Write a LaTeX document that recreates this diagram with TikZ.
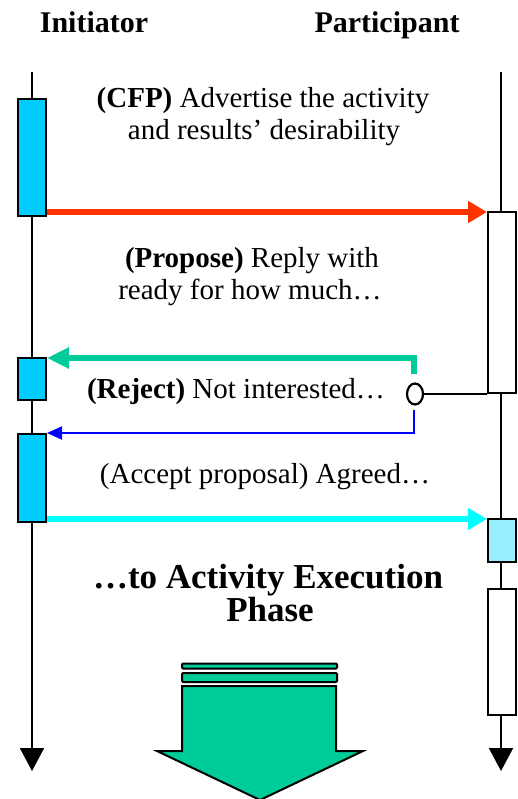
\documentclass[tikz,border=0pt]{standalone}
\usepackage{fontspec}
\setmainfont{Liberation Serif}
\usetikzlibrary{arrows.meta,shapes.geometric}
\definecolor{actblue}{HTML}{00CCFF}
\definecolor{lightact}{HTML}{99EEFF}
\definecolor{cfpred}{HTML}{FF3300}
\definecolor{rejgreen}{HTML}{00CC99}
\definecolor{accblue}{HTML}{0000FF}
\definecolor{acccyan}{HTML}{00FFFF}
\tikzset{
  lifeline/.style={line width=2pt,-{Triangle[length=23pt,width=24pt]}},
  actbox/.style={draw=black,line width=2pt,fill=actblue,minimum width=28pt,inner sep=0pt,anchor=north},
  partbox/.style={draw=black,line width=2pt,fill=white,minimum width=28pt,inner sep=0pt,anchor=north},
  msg/.style={font=\fontsize{29}{32}\selectfont,align=center,inner sep=0pt},
  head/.style={font=\fontsize{30}{32}\selectfont\bfseries,inner sep=0pt},
  big/.style={font=\fontsize{35}{34}\selectfont\bfseries,align=center,inner sep=0pt}
}
\begin{document}
\begin{tikzpicture}[x=1pt,y=-1pt]
\useasboundingbox (0,0) rectangle (518,799);
% headers
\node[head,anchor=base] (hi) at (94,33) {Initiator};
\node[head,anchor=base] (hp) at (387,33) {Participant};
% lifelines
\coordinate (ltop) at (32,72);
\coordinate (lbot) at (32,771);
\coordinate (rtop) at (501,72);
\coordinate (rbot) at (501,771);
\draw[lifeline] (ltop) -- (lbot);
\draw[lifeline] (rtop) -- (rbot);
% activation boxes
\node[actbox,minimum height=117pt] (lb1) at (32,98) {};
\node[actbox,minimum height=42pt] (lb2) at (32,357) {};
\node[actbox,minimum height=88pt] (lb3) at (32,433) {};
\node[partbox,minimum height=181pt] (rb1) at (502,211) {};
\node[partbox,fill=lightact,minimum height=43pt] (rb2) at (502,518) {};
\node[partbox,minimum height=126pt] (rb3) at (502,588) {};
% texts
\node[msg,anchor=base] (t1) at (263,108) {\textbf{(CFP)} Advertise the activity};
\node[msg,anchor=base] (t1b) at (264,140) {and results’ desirability};
\node[msg,anchor=base] (t2) at (252,268) {\textbf{(Propose)} Reply with};
\node[msg,anchor=base] (t2b) at (250,299) {ready for how much…};
\node[msg,anchor=base] (t3) at (236,398) {\textbf{(Reject)} Not interested…};
\node[msg,anchor=base] (t4) at (265,483) {(Accept proposal) Agreed…};
\node[big,anchor=base] (t5) at (268,588) {…to Activity Execution};
\node[big,anchor=base] (t5b) at (270,621) {Phase};
% CFP arrow
\coordinate (cfps) at (lb1.east |- 0,212);
\coordinate (cfpe) at (rb1.west |- 0,212);
\draw[cfpred,line width=6pt,-{Triangle[length=19pt,width=21pt]}] (cfps) -- (cfpe);
% choice circle
\node[draw=black,line width=2.2pt,ellipse,minimum width=16pt,minimum height=21pt,inner sep=0pt,outer sep=0pt] (ch) at (415,394) {};
\draw[line width=2pt] (ch.east) -- (ch.east -| rb1.south west);
% reject arrow
\coordinate (rj1) at (414,374);
\coordinate (rj2) at (414,358);
\draw[rejgreen,line width=6.5pt,-{Triangle[length=22pt,width=20pt]}] (rj1) -- (rj2) -- (rj2 -| lb2.east);
% accept arrow (blue)
\coordinate (ac1) at (414,410);
\coordinate (ac2) at (414,433);
\draw[accblue,line width=2pt,-{Triangle[length=15pt,width=13pt]}] (ac1) -- (ac2) -- (ac2 -| lb3.east);
% cyan arrow
\coordinate (cy1) at (lb3.east |- 0,519);
\coordinate (cy2) at (rb2.west |- 0,519);
\draw[acccyan,line width=6.5pt,-{Triangle[length=19pt,width=21pt]}] (cy1) -- (cy2);
% big green arrow
\draw[line width=2pt,fill=rejgreen,rounded corners=1pt] (182,663.5) rectangle (337,668.5);
\draw[line width=2pt,fill=rejgreen,rounded corners=1pt] (182,673) rectangle (337,682);
\draw[line width=2pt,fill=rejgreen] (182,686) -- (336,686) -- (336,751) -- (363,751) -- (260,800) -- (157,751) -- (182,751) -- cycle;
\end{tikzpicture}
\end{document}
